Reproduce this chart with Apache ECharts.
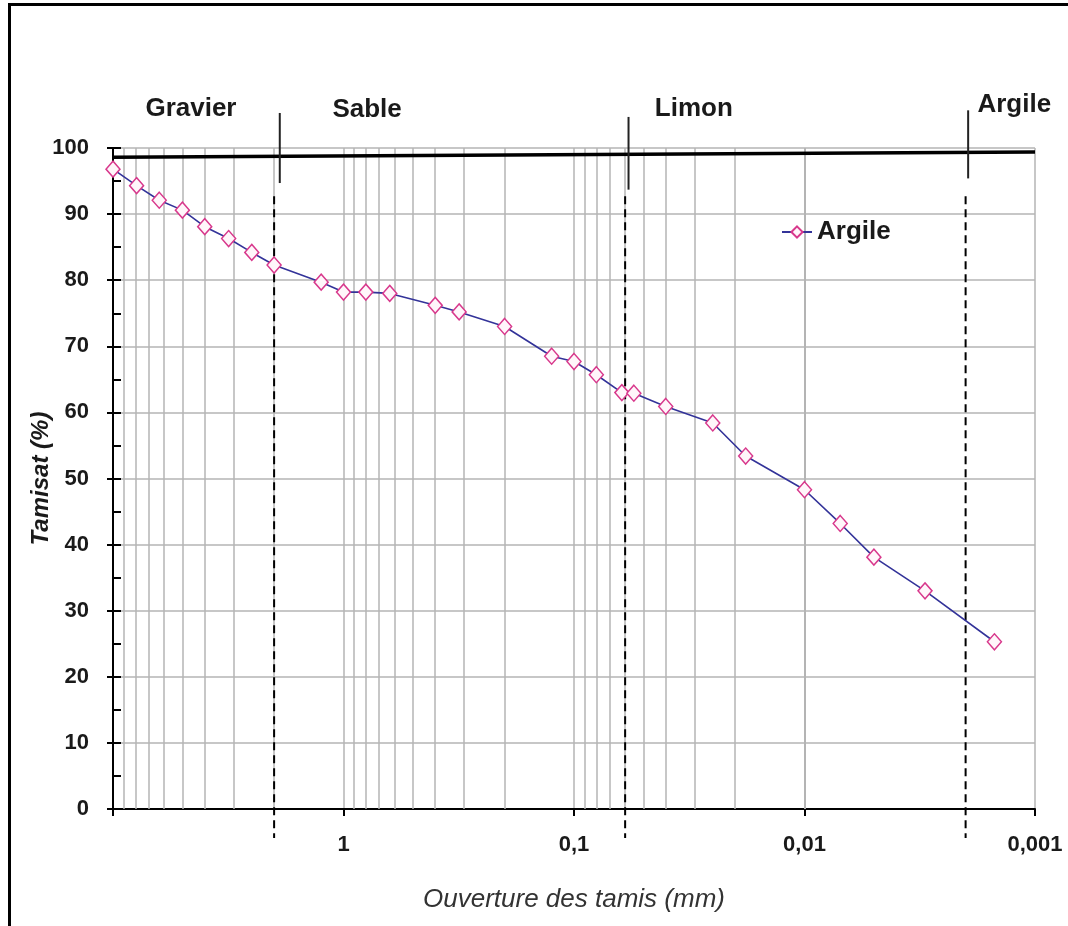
<!DOCTYPE html>
<html><head><meta charset="utf-8">
<script src="https://cdn.jsdelivr.net/npm/echarts@6.0.0/dist/echarts.min.js"></script>
<style>
html,body{margin:0;padding:0;background:#fff;overflow:hidden;width:1068px;height:926px;}
#chart{position:absolute;left:0;top:0;width:1068px;height:926px;}
#frame{position:absolute;left:8px;top:3px;width:2000px;height:2000px;border:3px solid #000;box-sizing:border-box;pointer-events:none;}
</style></head><body>
<div id="chart"></div><div id="frame"></div>
<script>
// ---- data ----
const sieveSizes = [10, 7.9, 6.3, 5.0, 4.0, 3.15, 2.5, 2.0, 1.25, 1.0, 0.8, 0.63, 0.4, 0.315, 0.2, 0.125, 0.1, 0.08, 0.062, 0.055, 0.04, 0.025, 0.018, 0.01, 0.007, 0.005, 0.003, 0.0015];
const passingPct = [96.8, 94.3, 92.1, 90.6, 88.1, 86.3, 84.2, 82.3, 79.7, 78.2, 78.2, 78.0, 76.2, 75.2, 73.0, 68.5, 67.7, 65.7, 63.0, 62.9, 60.9, 58.4, 53.4, 48.3, 43.2, 38.1, 33.0, 25.3];
const xTickLabels = ['0,001', '0,01', '0,1', '1', ''];
const minorGridX = [9, 8, 7, 6, 5, 4, 3, 2, 0.9, 0.8, 0.7, 0.6, 0.5, 0.4, 0.3, 0.2, 0.09, 0.08, 0.07, 0.06, 0.05, 0.04, 0.03, 0.02, 0.009, 0.008, 0.007, 0.006, 0.005, 0.004, 0.003, 0.002];
const boundaryX = [2, 0.06, 0.002];
const boundaryDashY = [92.7, -4.4];
const boundaryTopX = [1.89, 0.058, 0.00195];
const boundaryTopY = [[105.3, 94.7], [104.7, 93.7], [105.7, 95.4]];
const topLineX = [10, 0.001];
const topLineY = [98.6, 99.4];
const zoneNames = ['Gravier', 'Sable', 'Limon', 'Argile'];
const zoneX = [4.59, 0.79, 0.0302, 0.00123];
const zoneY = [105.9, 105.7, 105.9, 106.5];
const seriesName = 'Argile';

const FONT = '"Liberation Sans", Arial, sans-serif';
const chart = echarts.init(document.getElementById('chart'), null, {renderer: 'canvas'});

const series = [];
// minor grid lines + zone labels
series.push({
  type: 'scatter', name: 'zones', z: 1, clip: false, silent: true,
  symbolSize: 0,
  itemStyle: {opacity: 1},
  data: zoneNames.map((n, i) => ({value: [zoneX[i], zoneY[i]], name: n})),
  label: {show: true, position: 'inside', formatter: p => p.name,
    fontFamily: FONT, fontSize: 26, fontWeight: 'bold', color: '#1a1a1a'},
  markLine: {silent: true, z: 1, symbol: ['none', 'none'], label: {show: false},
    lineStyle: {color: '#b4b4b4', width: 1.5, type: 'solid'},
    data: minorGridX.map(v => ({xAxis: v}))}
});
// thick top line
series.push({
  type: 'line', name: 'top', z: 3, symbol: 'none', silent: true,
  data: topLineX.map((x, i) => [x, topLineY[i]]),
  lineStyle: {color: '#000', width: 3.5}
});
boundaryX.forEach((bx, i) => {
  series.push({
    type: 'line', name: 'b' + i, z: 4, symbol: 'none', silent: true, clip: false,
    data: boundaryDashY.map(y => [bx, y]),
    lineStyle: {color: '#000', width: 2, type: [8, 5]}
  });
});
boundaryTopX.forEach((bx, i) => {
  series.push({
    type: 'line', name: 't' + i, z: 4, symbol: 'none', silent: true, clip: false,
    data: boundaryTopY[i].map(y => [bx, y]),
    lineStyle: {color: '#222', width: 2}
  });
});
series.push({
  type: 'line', name: seriesName, z: 6,
  data: sieveSizes.map((x, i) => [x, passingPct[i]]),
  symbol: 'diamond', symbolSize: [14, 16],
  lineStyle: {color: '#333399', width: 1.6},
  itemStyle: {color: '#fff6fa', borderColor: '#d8388c', borderWidth: 1.5}
});

chart.setOption({
  animation: false,
  backgroundColor: '#fff',
  grid: {left: 113, right: 33, top: 148, bottom: 117},
  legend: {
    data: [seriesName], left: 776, top: 214, itemWidth: 30, itemHeight: 14, itemGap: 4,
    textStyle: {fontFamily: FONT, fontSize: 26, fontWeight: 'bold', color: '#1a1a1a'}
  },
  xAxis: {
    type: 'log', logBase: 10, min: 0.001, max: 10, inverse: true,
    name: 'Ouverture des tamis (mm)', nameLocation: 'middle', nameGap: 78,
    nameTextStyle: {fontFamily: FONT, fontSize: 26, fontStyle: 'italic', color: '#333'},
    axisLine: {lineStyle: {color: '#000', width: 2}},
    axisTick: {length: 7, lineStyle: {color: '#000', width: 2}},
    axisLabel: {margin: 25, fontFamily: FONT, fontSize: 22, fontWeight: 'bold', color: '#1a1a1a',
      formatter: v => xTickLabels[Math.round(Math.log10(v)) + 3] || ''},
    splitLine: {show: true, lineStyle: {color: '#b4b4b4', width: 1.5}}
  },
  yAxis: [{
    type: 'value', min: 0, max: 100, interval: 10,
    name: 'Tamisat (%)', nameLocation: 'middle', nameGap: 60, nameRotate: 90,
    nameMoveOverlap: false,
    nameTextStyle: {fontFamily: FONT, fontSize: 24, fontWeight: 'bold', fontStyle: 'italic', color: '#1a1a1a'},
    axisLine: {show: true, lineStyle: {color: '#000', width: 2}},
    axisTick: {show: true, length: 6, lineStyle: {color: '#000', width: 2}},
    axisLabel: {margin: 24, fontFamily: FONT, fontSize: 22, fontWeight: 'bold', color: '#1a1a1a'},
    splitLine: {show: true, lineStyle: {color: '#b4b4b4', width: 1.5}}
  }, {
    type: 'value', min: 0, max: 100, interval: 10, position: 'left', offset: 0,
    axisLine: {show: false}, axisLabel: {show: false}, splitLine: {show: false},
    axisTick: {show: true, inside: true, length: 8, lineStyle: {color: '#000', width: 2}},
    minorTick: {show: true, splitNumber: 2, length: 8, lineStyle: {color: '#000', width: 2}}
  }],
  series: series
});
</script>
</body></html>
